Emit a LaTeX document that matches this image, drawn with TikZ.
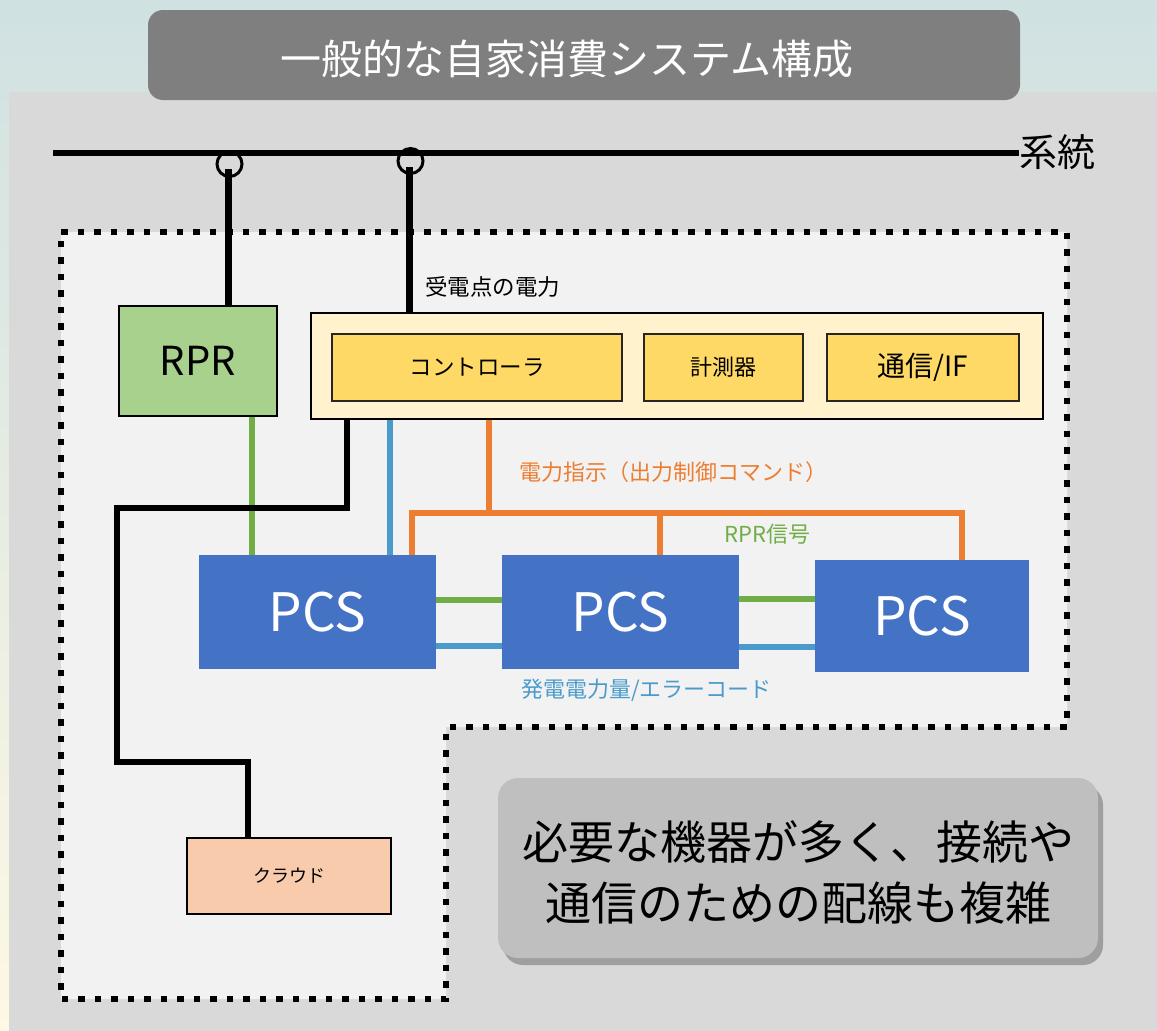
\documentclass[tikz,border=0pt]{standalone}
\usepackage{fontspec}
\setmainfont{Noto Sans CJK JP}
\usetikzlibrary{shadows,calc}
\definecolor{bgtop}{HTML}{D0E1E2}
\definecolor{bgbot}{HTML}{FEF8E4}
\definecolor{panel}{HTML}{D9D9D9}
\definecolor{inner}{HTML}{F2F2F2}
\definecolor{titlegray}{HTML}{7F7F7F}
\definecolor{rprgreen}{HTML}{A9D18E}
\definecolor{ctrlout}{HTML}{FFF2CC}
\definecolor{ctrlin}{HTML}{FFD966}
\definecolor{pcsblue}{HTML}{4472C4}
\definecolor{cloudc}{HTML}{F8CBAD}
\definecolor{notegray}{HTML}{BFBFBF}
\definecolor{lorange}{HTML}{ED7D31}
\definecolor{lgreen}{HTML}{70AD47}
\definecolor{lblue}{HTML}{4A9BCC}
\newcommand{\fsz}[1]{\fontsize{#1}{#1}\selectfont}
\tikzset{
  boxA/.style={draw=black, line width=1.8pt, inner sep=0pt, text=black},
  innerbox/.style={draw=black!85, line width=1.4pt, fill=ctrlin, inner sep=0pt, minimum height=67pt},
  pcsbox/.style={fill=pcsblue, inner sep=0pt, text=white, font=\fsz{53}},
  ct/.style={circle, draw=black, line width=3pt, minimum size=25pt, inner sep=0pt},
  thickline/.style={draw=black, line width=6pt},
  feed/.style={draw=black, line width=7pt},
  gline/.style={draw=lgreen, line width=5.5pt},
  bline/.style={draw=lblue, line width=5.5pt},
  oline/.style={draw=lorange, line width=5.5pt},
  lbl/.style={inner sep=0pt, anchor=west},
}
\begin{document}
\begin{tikzpicture}[x=1pt,y=-1pt]
\useasboundingbox (0,0) rectangle (1157,1031);
\shade[top color=bgtop, bottom color=bgbot] (0,0) rectangle (1157,1031);
\fill[panel] (9,92) rectangle (1157,1031);
% title
\node[fill=titlegray, rounded corners=15pt, minimum width=872pt, minimum height=90pt] (title) at (584,55) {};
\node[text=white, font=\fsz{41}, inner sep=0pt] (titletext) at (567,59) {一般的な自家消費システム構成};
% dotted region
\draw[fill=inner, line width=6.5pt, dash pattern=on 6.5pt off 10pt]
  (61,232) -- (1067,232) -- (1067,727) -- (446,727) -- (446,999) -- (61,999) -- cycle;
% grid line
\node[inner sep=0pt, anchor=west, font=\fsz{38}] (grid) at (1019,152) {系統};
\coordinate (gl) at (53,153);
\draw[thickline] (gl) -- (gl -| grid.west) coordinate (gr);
\node[ct] (ct1) at (229.5,164) {};
\node[ct] (ct2) at (410.5,161) {};
% boxes
\node[boxA, fill=rprgreen, minimum width=158pt, minimum height=110pt, font=\fsz{40}] (rpr) at (198,361) {RPR};
\node[boxA, fill=ctrlout, minimum width=732pt, minimum height=106pt] (outer) at (677,366) {};
\node[innerbox, minimum width=290pt, font=\fsz{22.5}] (ctrl) at (477,367.5) {コントローラ};
\node[innerbox, minimum width=159pt, font=\fsz{22}] (meter) at (723.5,367.5) {計測器};
\node[innerbox, minimum width=192pt, font=\fsz{28}] (comm) at (923,367.5) {通信/IF};
\node[pcsbox, minimum width=237pt, minimum height=114pt] (pcs1) at (317.5,612) {PCS};
\node[pcsbox, minimum width=237pt, minimum height=114pt] (pcs2) at (620.5,612) {PCS};
\node[pcsbox, minimum width=214pt, minimum height=112pt] (pcs3) at (922,616) {PCS};
\node[boxA, fill=cloudc, minimum width=204pt, minimum height=76pt, font=\fsz{18}] (cloud) at (289,876) {クラウド};
% feeders from CTs
\coordinate (f1) at (228,169);
\coordinate (f2) at (409,167);
\draw[feed] (f1) -- (f1 |- rpr.north);
\draw[feed] (f2) -- (f2 |- outer.north);
% labels
\node[lbl, font=\fsz{22.5}] (lrecv) at (425,287) {受電点の電力};
\node[lbl, font=\fsz{22}, text=lorange] (lcmd) at (519,472) {電力指示（出力制御コマンド）};
\node[lbl, font=\fsz{22}, text=lgreen] (lrpr) at (724,534) {RPR信号};
\node[lbl, font=\fsz{22}, text=lblue] (lgen) at (521,690) {発電電力量/エラーコード};
% green RPR -> PCS1
\coordinate (gx) at (252,0);
\draw[gline] (rpr.south -| gx) -- (pcs1.north -| gx);
% black controller -> cloud
\coordinate (k1) at (347,508);
\coordinate (k2) at (117,508);
\coordinate (k3) at (117,762);
\coordinate (k4) at (248,762);
\draw[thickline, line join=miter] (outer.south -| k1) -- (k1) -- (k2) -- (k3) -- (k4) -- (cloud.north -| k4);
% blue controller -> PCS1
\coordinate (bx) at (390,0);
\draw[bline] (outer.south -| bx) -- (pcs1.north -| bx);
% orange command bus
\coordinate (o0) at (489,513);
\coordinate (oa) at (412,513);
\coordinate (ob) at (660,513);
\coordinate (oc) at (962,513);
\draw[oline] (outer.south -| o0) -- (o0);
\draw[oline, line join=miter] (pcs1.north -| oa) -- (oa) -- (oc) -- (pcs3.north -| oc);
\draw[oline] (ob) -- (pcs2.north -| ob);
% PCS links
\coordinate (y1) at (0,600);
\coordinate (y2) at (0,646);
\coordinate (y3) at (0,599);
\coordinate (y4) at (0,647);
\draw[gline] (pcs1.east |- y1) -- (pcs2.west |- y1);
\draw[bline] (pcs1.east |- y2) -- (pcs2.west |- y2);
\draw[gline] (pcs2.east |- y3) -- (pcs3.west |- y3);
\draw[bline] (pcs2.east |- y4) -- (pcs3.west |- y4);
% note
\node[fill=notegray, rounded corners=20pt, minimum width=600pt, minimum height=180pt,
  drop shadow={shadow xshift=5pt, shadow yshift=-7pt, fill=black!60, opacity=0.5}] (note) at (798,868) {};
\node[align=center, inner sep=0pt, font=\fontsize{46}{61}\selectfont] (notetext) at (798,872)
  {必要な機器が多く、接続や\\通信のための配線も複雑};
\end{tikzpicture}
\end{document}
